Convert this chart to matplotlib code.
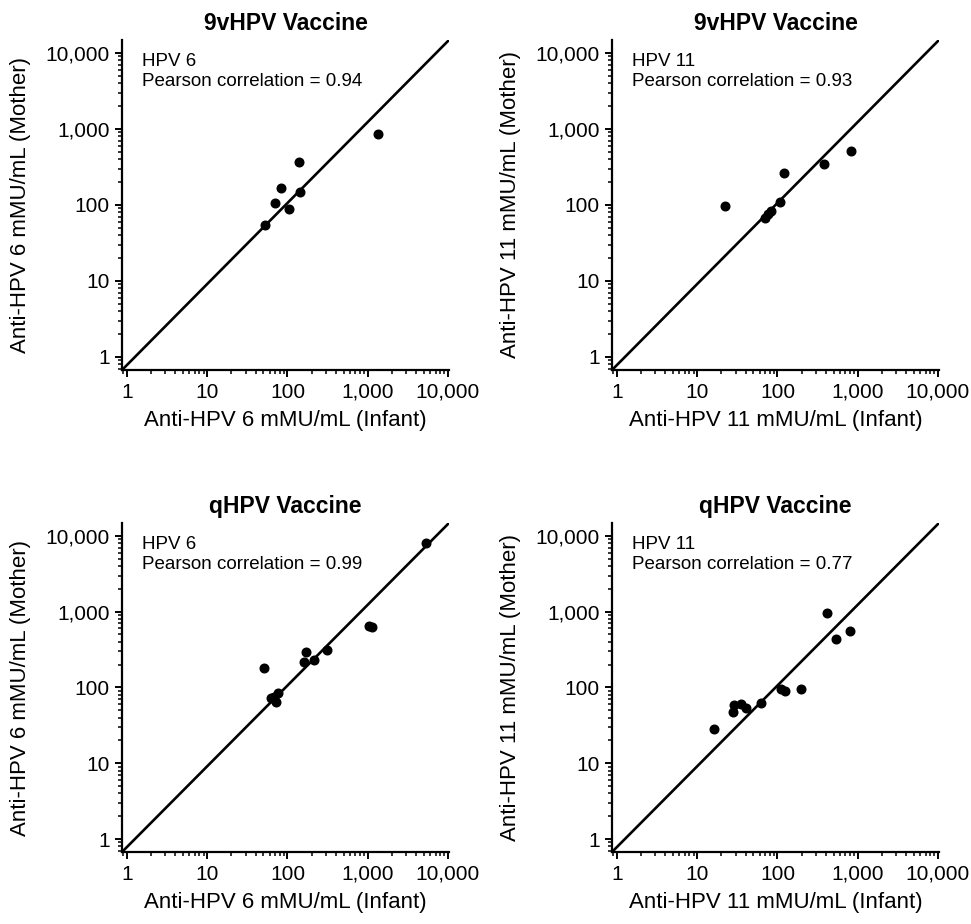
import numpy as np
import matplotlib.pyplot as plt
from matplotlib.ticker import FixedLocator, LogLocator, FuncFormatter, NullFormatter

plt.rcParams['font.family'] = ['Liberation Sans', 'DejaVu Sans']

# titles / labels per panel
titles = ['9vHPV Vaccine', '9vHPV Vaccine', 'qHPV Vaccine', 'qHPV Vaccine']
types = ['HPV 6', 'HPV 11', 'HPV 6', 'HPV 11']
pearson = [0.94, 0.93, 0.99, 0.77]

# infant (x) / mother (y) antibody values
infant_9v_6 = [52, 70, 84, 105, 139, 144, 1330]
mother_9v_6 = [55, 107, 166, 88, 372, 150, 860]

infant_9v_11 = [22, 70, 76, 83, 107, 122, 380, 830]
mother_9v_11 = [97, 68, 76, 83, 110, 265, 345, 520]

infant_q_6 = [51, 63, 67, 72, 76, 159, 171, 212, 313, 1025, 1130, 5400]
mother_q_6 = [180, 73, 75, 64, 84, 220, 295, 228, 310, 650, 620, 8000]

infant_q_11 = [16, 28, 29, 35, 41, 63, 111, 123, 196, 418, 531, 807]
mother_q_11 = [28, 48, 58, 61, 53, 63, 96, 90, 96, 970, 440, 550]

xs = [infant_9v_6, infant_9v_11, infant_q_6, infant_q_11]
ys = [mother_9v_6, mother_9v_11, mother_q_6, mother_q_11]

major = [1, 10, 100, 1000, 10000]

fig = plt.figure(figsize=(9.71, 9.24), dpi=100)

# axes boxes in pixels (left, top, right, bottom)
boxes = [(122, 40, 449, 370), (612, 40, 939, 370),
         (122, 523, 449, 852), (612, 523, 939, 852)]

W, H = 971, 924
for i, (l, t, r, b) in enumerate(boxes):
    ax = fig.add_axes([l / W, (H - b) / H, (r - l) / W, (b - t) / H])
    ax.set_xscale('log')
    ax.set_yscale('log')
    ax.set_xlim(0.866, 10300)
    ax.set_ylim(0.674, 14800)

    # identity line corner to corner
    ax.plot([0, 1], [0, 1], transform=ax.transAxes, color='black', lw=1.9, zorder=1)
    ax.plot(xs[i], ys[i], 'o', color='black', ms=6.2, zorder=3, clip_on=False)

    for s in ['top', 'right']:
        ax.spines[s].set_visible(False)
    for s in ['left', 'bottom']:
        ax.spines[s].set_linewidth(1.6)

    for axis in (ax.xaxis, ax.yaxis):
        axis.set_major_locator(FixedLocator(major))
        axis.set_minor_locator(LogLocator(base=10, subs=np.arange(2, 10), numticks=20))
        axis.set_major_formatter(FuncFormatter(lambda v, _: f'{v:,.0f}'))
        axis.set_minor_formatter(NullFormatter())
    ax.tick_params(which='major', direction='out', length=5, width=1.4, labelsize=15, pad=4)
    ax.tick_params(which='minor', direction='out', length=3, width=1.1)

    n = types[i].split()[1]
    ax.set_xlabel(f'Anti-HPV {n} mMU/mL (Infant)', fontsize=16, labelpad=6)
    ax.set_ylabel(f'Anti-HPV {n} mMU/mL (Mother)', fontsize=16, labelpad=10)
    ax.set_title(titles[i], fontsize=16.5, fontweight='bold', pad=7)

    ax.text(0.06, 0.96, f'{types[i]}\nPearson correlation = {pearson[i]:.2f}',
            transform=ax.transAxes, ha='left', va='top', fontsize=13.5, linespacing=1.25)

fig.savefig('out.png', dpi=100)
